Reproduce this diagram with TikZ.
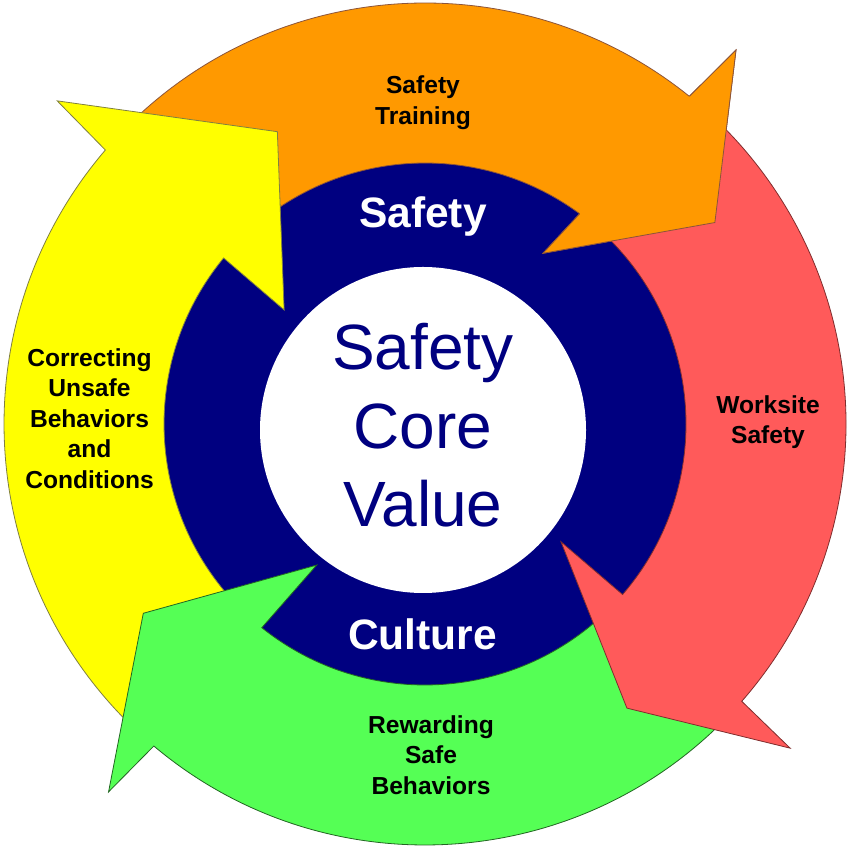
\documentclass[tikz,border=0pt]{standalone}
\usepackage{fontspec}
\setmainfont{Liberation Sans}
\definecolor{orangeA}{HTML}{FF9900}
\definecolor{redA}{HTML}{FF5A5A}
\definecolor{greenA}{HTML}{55FF55}
\definecolor{yellowA}{HTML}{FFFF00}
\definecolor{navyA}{HTML}{000080}
\tikzset{
  orangearrow/.style={fill=orangeA, draw=orangeA!55!navyA, line width=0.8pt, line join=miter},
  yellowarrow/.style={fill=yellowA, draw=yellowA!50!navyA, line width=0.8pt, line join=miter},
  greenarrow/.style={fill=greenA, draw=greenA!40!black, line width=0.8pt, line join=miter},
  redarrow/.style={fill=redA, draw=redA!50!black, line width=0.8pt, line join=miter},
  lbl/.style={align=center, inner sep=0pt, font=\fontsize{24.6}{30.5}\selectfont\bfseries, text=black},
  ringlbl/.style={anchor=base, inner sep=0pt, font=\fontsize{42.5}{50}\selectfont\bfseries, text=white},
  corelbl/.style={align=center, inner sep=0pt, font=\fontsize{64}{78.5}\selectfont, text=navyA}
}
\begin{document}
\begin{tikzpicture}[x=1pt,y=1pt]
\useasboundingbox (0,0) rectangle (850,850);
\fill[white] (0,0) rectangle (850,850);
\begin{scope}[shift={(425,426)}]
  % navy ring
  \fill[navyA] (0,0) circle[radius=262];
  % orange arrow (top)
  \path[orangearrow] (136:421) arc[start angle=136, end angle=51.1, radius=421]
     -- (50.25:486.4) -- (34.8:353) -- (55.35:207.5) -- (53.66:261)
     arc[start angle=53.66, end angle=136, radius=261] -- cycle;
  % yellow arrow (left)
  \path[yellowarrow] (227:421) arc[start angle=227, end angle=139.4, radius=421]
     -- (138.7:489.6) -- (116.8:327.5) -- (141:181.3) -- (140.5:261)
     arc[start angle=140.5, end angle=227, radius=261] -- cycle;
  % green arrow (bottom)
  \path[greenarrow] (-44:421) arc[start angle=-44, end angle=-130.1, radius=421]
     -- (-130.7:485.3) -- (-146.1:339.4) -- (-127.5:177.8) -- (-128.7:261)
     arc[start angle=-128.7, end angle=-44, radius=261] -- cycle;
  % red arrow (right)
  \path[redarrow] (49:421) arc[start angle=49, end angle=-41.2, radius=421]
     -- (-41.6:488.3) -- (-54.6:348.6) -- (-40.9:179.9) -- (-40.8:261)
     arc[start angle=-40.8, end angle=49, radius=261] -- cycle;
  % orange arrow head again, over the red tail
  \fill[orangeA] (51.1:421) -- (50.25:486.4) -- (34.8:353) -- (55.35:207.5) -- (53.66:261) -- cycle;
  \draw[draw=orangeA!55!navyA, line width=0.8pt, line join=miter]
     (51.1:421) -- (50.25:486.4) -- (34.8:353) -- (55.35:207.5) -- (53.66:261);
\end{scope}
% white core
\fill[white] (423,420) circle[radius=163];
% texts
\node[corelbl] (core) at (423,424.4) {Safety\\Core\\Value};
\node[ringlbl] (safety) at (423,622) {Safety};
\node[ringlbl] (culture) at (422.5,200) {Culture};
\node[lbl] (training) at (423,747.3) {Safety\\Training};
\node[lbl] (worksite) at (768,427.75) {Worksite\\Safety};
\node[lbl] (rewarding) at (431,95.25) {Rewarding\\Safe\\Behaviors};
\node[lbl] (correcting) at (89.5,431.6) {Correcting\\Unsafe\\Behaviors\\and\\Conditions};
\end{tikzpicture}
\end{document}
